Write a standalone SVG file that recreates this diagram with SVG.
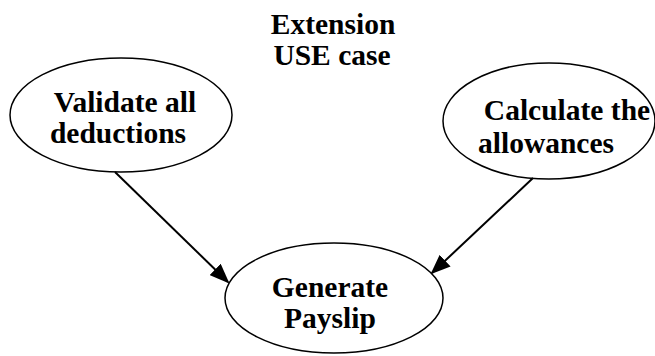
<svg xmlns="http://www.w3.org/2000/svg" width="655" height="356" viewBox="0 0 655 356">
<style>
.n ellipse{fill:#fff;stroke:#000;stroke-width:1.5}
text{font-family:"Liberation Serif","Times New Roman",serif;font-weight:bold;font-size:29.5px;fill:#000;text-anchor:middle}
.c line{stroke:#000;stroke-width:2}
</style>
<defs>
<marker id="ah" markerWidth="10" markerHeight="8" refX="9" refY="4" orient="auto" markerUnits="strokeWidth">
<path d="M0,0 L10,4 L0,8 z" fill="#000"/>
</marker>
</defs>
<rect width="655" height="356" fill="#fff"/>
<g id="title">
<text x="333" y="34">Extension</text>
<text x="332" y="65">USE case</text>
</g>
<g id="validate" class="n">
<ellipse cx="121" cy="115" rx="111" ry="57"/>
<text x="125" y="112">Validate all</text>
<text x="118" y="143">deductions</text>
</g>
<g id="calculate" class="n">
<ellipse cx="549" cy="121" rx="106" ry="58"/>
<text x="567" y="120">Calculate the</text>
<text x="546" y="153">allowances</text>
</g>
<g id="generate" class="n">
<ellipse cx="334" cy="298" rx="109" ry="55"/>
<text x="330" y="297">Generate</text>
<text x="330" y="328">Payslip</text>
</g>
<g id="connectors" class="c">
<line x1="115" y1="172" x2="228" y2="282" marker-end="url(#ah)"/>
<line x1="533" y1="178" x2="432" y2="273" marker-end="url(#ah)"/>
</g>
</svg>
